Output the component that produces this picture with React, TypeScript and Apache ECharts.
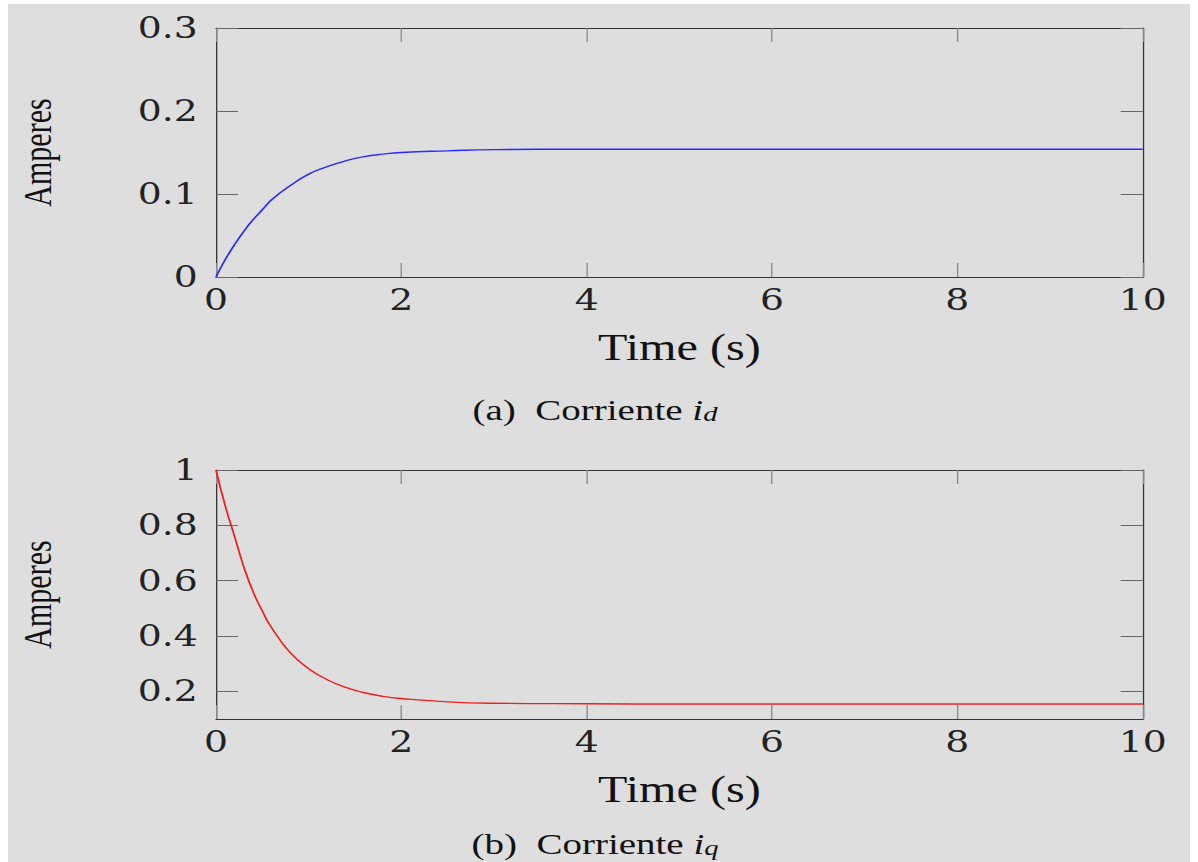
import React, { useEffect, useRef } from "react";
import * as echarts from "echarts";

// ---- data ----
const xTicks = [0, 2, 4, 6, 8, 10];
const idTicks = [0, 0.1, 0.2, 0.3];
const iqTicks = [0.2, 0.4, 0.6, 0.8, 1];

const tId = [0, 0.1, 0.2, 0.3, 0.4, 0.5, 0.6, 0.8, 1.0, 1.2, 1.4, 1.6, 1.8, 2.0, 2.5, 3.0, 4.0, 5, 6, 7, 8, 9, 10];
const idValues = [0, 0.021, 0.039, 0.055, 0.069, 0.081, 0.093, 0.11, 0.124, 0.133, 0.14, 0.145, 0.148, 0.15, 0.152, 0.1535, 0.154, 0.154, 0.154, 0.154, 0.154, 0.154, 0.154];

const tIq = [0, 0.1, 0.2, 0.3, 0.4, 0.5, 0.6, 0.8, 1.0, 1.2, 1.4, 1.6, 1.8, 2.0, 2.5, 3.0, 4.0, 5, 6, 7, 8, 9, 10];
const iqValues = [1, 0.87, 0.76, 0.65, 0.56, 0.49, 0.43, 0.34, 0.282, 0.242, 0.214, 0.195, 0.182, 0.174, 0.162, 0.157, 0.155, 0.154, 0.154, 0.154, 0.154, 0.154, 0.154];

const xName = "Time (s)";
const yName = "Amperes";
const captionA = "(a)";
const captionB = "(b)";
const captionWord = "Corriente";
const subA = "d";
const subB = "q";

// ---- layout ----
const K = 1.3; // horizontal stretch of the whole figure
const OUTER_W = 1182;
const OUTER_H = 858;
const W = OUTER_W / K;
const GRID_LEFT = (216 - 8) / K;
const GRID_RIGHT = W - (1143 - 8) / K;

const tickFont = "'DejaVu Serif', serif";
const textFont = "'Liberation Serif', 'Times New Roman', serif";

function axesFor(gridIndex: number, yMin: number, yMax: number, yInterval: number | null, yLabels: number[] | null) {
  const axisLine = { show: true, onZero: false, lineStyle: { color: "#333", width: 1 } };
  const xBase: any = {
    gridIndex,
    type: "value",
    min: 0,
    max: 10,
    interval: 2,
    axisLine,
    splitLine: { show: false },
    axisTick: { show: true, inside: true, length: 14, lineStyle: { color: "#888", width: 1 } },
  };
  const yTick: any = { show: true, inside: true, length: 17, lineStyle: { color: "#666", width: 1 } };
  if (yLabels) yTick.customValues = yLabels;
  const yBase: any = {
    gridIndex,
    type: "value",
    min: yMin,
    max: yMax,
    axisLine,
    splitLine: { show: false },
    axisTick: yTick,
  };
  if (yInterval !== null) yBase.interval = yInterval;
  const yLabel: any = {
    show: true,
    margin: 14,
    fontFamily: tickFont,
    fontSize: 29,
    color: "#222",
    formatter: (v: number) => String(Math.round(v * 1000) / 1000),
  };
  if (yLabels) yLabel.customValues = yLabels;
  return {
    x: [
      {
        ...xBase,
        position: "bottom",
        axisLabel: { show: true, margin: 9, fontFamily: tickFont, fontSize: 29, color: "#222" },
        name: xName,
        nameLocation: "middle",
        nameGap: 52,
        nameTextStyle: { fontFamily: textFont, fontSize: 37, color: "#111" },
      },
      { ...xBase, position: "top", axisLabel: { show: false } },
    ],
    y: [
      {
        ...yBase,
        position: "left",
        axisLabel: yLabel,
        name: yName,
        nameLocation: "middle",
        nameGap: 122,
        nameTextStyle: { fontFamily: textFont, fontSize: 30, color: "#111" },
      },
      { ...yBase, position: "right", axisLabel: { show: false } },
    ],
  };
}

function caption(label: string, sub: string, y: number) {
  return {
    type: "text",
    x: (595 - 8) / K,
    y,
    style: {
      text: `{n|${label}  ${captionWord} }{i|i}{s|${sub}}`,
      align: "center",
      verticalAlign: "middle",
      rich: {
        n: { fontFamily: textFont, fontSize: 30, fill: "#111", lineHeight: 34, verticalAlign: "bottom" },
        i: { fontFamily: textFont, fontStyle: "italic", fontSize: 30, fill: "#111", lineHeight: 34, verticalAlign: "bottom" },
        s: { fontFamily: textFont, fontStyle: "italic", fontSize: 22, fill: "#111", lineHeight: 14, verticalAlign: "bottom" },
      },
    },
  };
}

export default function App() {
  const ref = useRef<HTMLDivElement>(null);
  useEffect(() => {
    if (!ref.current) return;
    const chart = echarts.init(ref.current, null, { renderer: "svg" });
    const a = axesFor(0, 0, 0.3, 0.1, null);
    const b = axesFor(1, 0.1, 1, null, iqTicks);
    chart.setOption({
      animation: false,
      backgroundColor: "transparent",
      grid: [
        { left: GRID_LEFT, right: GRID_RIGHT, top: 24, height: 249 },
        { left: GRID_LEFT, right: GRID_RIGHT, top: 466, height: 249 },
      ],
      xAxis: [...a.x, ...b.x],
      yAxis: [...a.y, ...b.y],
      series: [
        {
          type: "line",
          xAxisIndex: 0,
          yAxisIndex: 0,
          data: tId.map((t, i) => [t, idValues[i]]),
          showSymbol: false,
          smooth: true,
          lineStyle: { color: "#2a2aff", width: 1.4 },
        },
        {
          type: "line",
          xAxisIndex: 2,
          yAxisIndex: 2,
          data: tIq.map((t, i) => [t, iqValues[i]]),
          showSymbol: false,
          smooth: true,
          lineStyle: { color: "#f02020", width: 1.4 },
        },
      ],
      graphic: [caption(captionA, subA, 404), caption(captionB, subB, 838)],
    });
    return () => chart.dispose();
  }, []);
  return (
    <div
      style={{
        position: "absolute",
        left: 8,
        top: 4,
        width: OUTER_W,
        height: OUTER_H,
        background: "#dedede",
        overflow: "hidden",
      }}
    >
      <div
        ref={ref}
        style={{ width: W, height: OUTER_H, transform: `scaleX(${K})`, transformOrigin: "0 0" }}
      />
    </div>
  );
}
